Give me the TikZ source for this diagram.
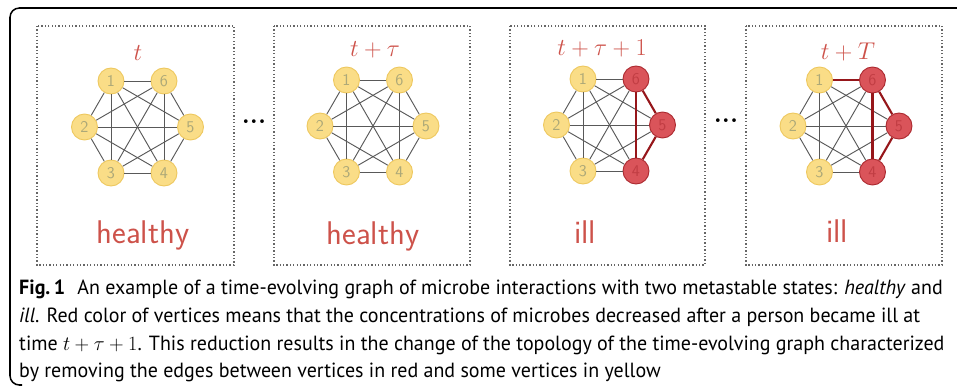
\documentclass[tikz,border=0pt]{standalone}
\usepackage{fontspec}
\newfontfamily\capfont[FakeStretch=0.975]{PT Sans}
\definecolor{vyellow}{RGB}{250,221,135}
\definecolor{vyellowline}{RGB}{238,200,95}
\definecolor{vred}{RGB}{218,84,90}
\definecolor{vredline}{RGB}{172,42,48}
\definecolor{numgray}{RGB}{172,168,120}
\definecolor{handred}{RGB}{205,82,74}
\definecolor{edgered}{RGB}{150,22,26}
\tikzset{
  yv/.style={circle,draw=vyellowline,fill=vyellow,line width=0.8pt,minimum size=7.8mm,inner sep=0pt,text=numgray,font=\sffamily\fontsize{14}{14}\selectfont},
  rv/.style={yv,draw=vredline,fill=vred,text=vredline!55!vred},
  grayedge/.style={draw=black!65,line width=0.8pt},
  rededge/.style={draw=edgered,line width=1.8pt},
  panelbox/.style={draw=black!60,line width=1.1pt,dash pattern=on 1.1pt off 1.8pt},
  hand/.style={text=handred,anchor=base,font=\sffamily\fontsize{28}{30}\selectfont\addfontfeatures{LetterSpace=8}},
  handtop/.style={hand,font=\sffamily\fontsize{22}{24}\selectfont},
  capline/.style={anchor=base west,inner sep=0pt,font=\capfont\fontsize{17.5}{20}\selectfont},
  dotsnode/.style={font=\bfseries\fontsize{22}{22}\selectfont}
}
\begin{document}
\begin{tikzpicture}[x=0.3mm,y=-0.3mm]
                \useasboundingbox (0,0) rectangle (957,386);
                \draw[line width=1.3pt,rounded corners=8] (960,8) -| (10,385) -- (22,385);
                \draw[panelbox] (37,26) rectangle (234,265);
                \draw[panelbox] (274,26) rectangle (470,265);
                \draw[panelbox] (510,26) rectangle (705,265);
                \draw[panelbox] (746,26) rectangle (942,265);
                \node[handtop] (ta) at (138,60) {$t$};
                \node[handtop] (tb) at (375,56) {$t+\tau$};
                \node[handtop] (tc) at (602,55) {$t+\tau+1$};
                \node[handtop] (td) at (848,59) {$t+T$};
                \node[hand] (sa) at (143,243) {healthy};
                \node[hand] (sb) at (373,244) {healthy};
                \node[hand] (sc) at (585,243) {ill};
                \node[hand] (sd) at (837,242) {ill};
                \node[dotsnode] (dots1) at (254,122) {...};
                \node[dotsnode] (dots2) at (726,121) {...};
                \begin{scope}[shift={(137.5,127)}, every node/.style=yv]
                \node (a1) at (-26.5,-46) {1};
                \node (a6) at (26.5,-46) {6};
                \node (a2) at (-53,0) {2};
                \node (a5) at (53,0) {5};
                \node (a3) at (-26.5,46) {3};
                \node (a4) at (26.5,46) {4};
                \end{scope}
                \begin{scope}[shift={(373,126)}, every node/.style=yv]
                \node (b1) at (-26.5,-46) {1};
                \node (b6) at (26.5,-46) {6};
                \node (b2) at (-53,0) {2};
                \node (b5) at (53,0) {5};
                \node (b3) at (-26.5,46) {3};
                \node (b4) at (26.5,46) {4};
                \end{scope}
                \begin{scope}[shift={(609.5,125)}, every node/.style=yv]
                \node (c1) at (-26.5,-46) {1};
                \node (c2) at (-53,0) {2};
                \node (c3) at (-26.5,46) {3};
                \end{scope}
                \begin{scope}[shift={(609.5,125)}, every node/.style=rv]
                \node (c6) at (26.5,-46) {6};
                \node (c5) at (53,0) {5};
                \node (c4) at (26.5,46) {4};
                \end{scope}
                \begin{scope}[shift={(846,126)}, every node/.style=yv]
                \node (d1) at (-26.5,-46) {1};
                \node (d2) at (-53,0) {2};
                \node (d3) at (-26.5,46) {3};
                \end{scope}
                \begin{scope}[shift={(846,126)}, every node/.style=rv]
                \node (d6) at (26.5,-46) {6};
                \node (d5) at (53,0) {5};
                \node (d4) at (26.5,46) {4};
                \end{scope}
                \begin{scope}[every edge/.style=grayedge]
                \foreach \i/\j in {1/2,1/3,1/4,1/5,1/6,2/3,2/4,2/5,2/6,3/4,3/5,3/6,4/5,4/6,5/6}
                {\draw (a\i) edge (a\j);
                 \draw (b\i) edge (b\j);}
                \foreach \i/\j in {1/2,1/3,1/4,1/5,1/6,2/3,2/4,2/5,2/6,3/4,3/5,3/6}
                  \draw (c\i) edge (c\j);
                \foreach \i/\j in {1/2,1/3,1/4,1/5,2/3,2/4,2/5,2/6,3/4,3/5,3/6}
                  \draw (d\i) edge (d\j);
                \end{scope}
                \begin{scope}[every edge/.style=rededge]
                \draw (c6) edge (c5) (c5) edge (c4) (c6) edge (c4);
                \draw (d1) edge (d6) (d6) edge (d5) (d5) edge (d4) (d6) edge (d4);
                \end{scope}
                \node[capline] (cap1) at (19,294) {\textbf{Fig.\,1}\hspace{0.6em}An example of a time-evolving graph of microbe interactions with two metastable states: \textit{healthy} and};
                \node[capline] (cap2) at (19,322) {\textit{ill}. Red color of vertices means that the concentrations of microbes decreased after a person became ill at};
                \node[capline] (cap3) at (19,350) {time $t+\tau+1$. This reduction results in the change of the topology of the time-evolving graph characterized};
                \node[capline] (cap4) at (19,377) {by removing the edges between vertices in red and some vertices in yellow};
                \end{tikzpicture}
\end{document}
